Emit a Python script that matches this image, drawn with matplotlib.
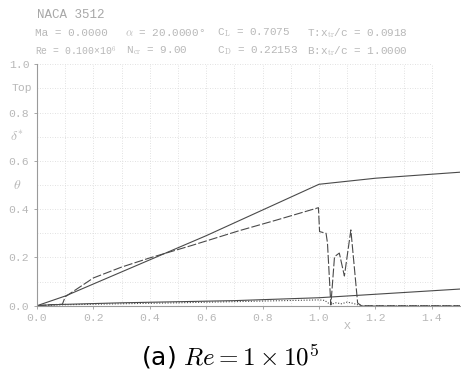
import matplotlib
matplotlib.use("Agg")
import matplotlib.pyplot as plt
import numpy as np

plt.rcParams["mathtext.fontset"] = "cm"

# Boundary-layer thickness distributions (top surface + wake)
x_upper = [0.0, 0.1, 0.3, 0.6, 1.0, 1.2, 1.5]
y_upper = [0.0, 0.04, 0.14, 0.29, 0.503, 0.528, 0.553]

x_dash = [0.0, 0.05, 0.09, 0.1, 0.2, 0.3, 0.4, 0.55, 0.715, 0.85, 0.998,
          1.002, 1.025, 1.03, 1.042, 1.055, 1.072, 1.09, 1.113, 1.137, 1.15, 1.5]
y_dash = [0.0, 0.004, 0.006, 0.037, 0.115, 0.16, 0.198, 0.25, 0.31, 0.355, 0.406,
          0.307, 0.30, 0.26, 0.003, 0.203, 0.218, 0.123, 0.314, 0.011, 0.0, 0.0]

x_lower = [0.0, 0.05, 0.3, 0.7, 1.0, 1.5]
y_lower = [0.0, 0.004, 0.012, 0.021, 0.033, 0.069]

x_dot = [0.0, 0.1, 0.5, 1.0, 1.02, 1.04, 1.06, 1.08, 1.1, 1.12, 1.14, 1.16, 1.5]
y_dot = [0.0, 0.004, 0.012, 0.024, 0.022, 0.005, 0.012, 0.008, 0.015, 0.01, 0.003, 0.0, 0.0]

x_ticks = [0.0, 0.2, 0.4, 0.6, 0.8, 1.0, 1.2, 1.4]
y_ticks = [0.0, 0.2, 0.4, 0.6, 0.8, 1.0]
x_grid = np.round(np.arange(0.1, 1.41, 0.1), 2)
y_grid = np.round(np.arange(0.1, 1.01, 0.1), 2)

W, H = 461, 378
fig = plt.figure(figsize=(W / 100, H / 100), dpi=100)
ax = fig.add_axes([37 / W, (H - 305.7) / H, (460 - 37) / W, 241.4 / H])
ax.set_xlim(0, 1.5)
ax.set_ylim(0, 1.0)

gray = "#b8b8b8"
gridc = "#d8d8d8"
ax.vlines(x_grid, 0, 1.0, colors=gridc, linestyles=(0, (1, 2)), linewidth=0.6)
ax.hlines(y_grid, 0, 1.4, colors=gridc, linestyles=(0, (1, 2)), linewidth=0.6)

lc = "#4a4a4a"
ax.plot(x_upper, y_upper, color=lc, lw=0.8)
ax.plot(x_dash, y_dash, color=lc, lw=0.8, linestyle=(0, (8, 2)))
ax.plot(x_lower, y_lower, color=lc, lw=0.8)
ax.plot(x_dot, y_dot, color=lc, lw=0.8, linestyle=(0, (1, 1.5)))

for s in ["top", "right"]:
    ax.spines[s].set_visible(False)
for s in ["left", "bottom"]:
    ax.spines[s].set_color("#9a9a9a")
    ax.spines[s].set_linewidth(0.8)

mono = "Liberation Mono"
tfont = dict(family=mono, color=gray, fontsize=8.2)
ax.set_xticks(x_ticks)
ax.set_xticklabels([f"{v:.1f}" for v in x_ticks], **tfont)
ax.set_yticks(y_ticks)
ax.set_yticklabels([f"{v:.1f}" for v in y_ticks], **tfont)
ax.tick_params(axis="both", length=2.5, width=0.6, color="#9a9a9a", pad=3)

# side labels
ax.text(-0.018, 0.9, "Top", ha="right", va="center", **tfont)
ax.text(-0.048, 0.7, r"$\delta^{*}$", ha="right", va="center", color=gray, fontsize=10)
ax.text(-0.055, 0.5, r"$\theta$", ha="right", va="center", color=gray, fontsize=10)
ax.text(1.1, -0.085, "X", ha="center", va="center", **tfont)

# header
hf = dict(family=mono, color=gray, fontsize=7.9)
fig.text(37 / W, 1 - 15 / H, "NACA 3512", family=mono, color="#a8a8a8",
         fontsize=9, va="center")
fig.text(35 / W, 1 - 33 / H, "Ma = 0.0000", va="center", **hf)
fig.text(125 / W, 1 - 33 / H, r"$\alpha$ = 20.0000°", va="center", **hf)
fig.text(217 / W, 1 - 33 / H, r"C$_\mathrm{L}$ = 0.7075", va="center", **hf)
fig.text(307 / W, 1 - 33 / H, r"T:x$_\mathrm{tr}$/c = 0.0918", va="center", **hf)
fig.text(35 / W, 1 - 51 / H, "Re = 0.100×10$^6$", va="center", family=mono,
         color=gray, fontsize=7.0)
fig.text(126 / W, 1 - 51 / H, r"N$_\mathrm{cr}$ = 9.00", va="center", **hf)
fig.text(217 / W, 1 - 51 / H, r"C$_\mathrm{D}$ = 0.22153", va="center", **hf)
fig.text(307 / W, 1 - 51 / H, r"B:x$_\mathrm{tr}$/c = 1.0000", va="center", **hf)

# caption
fig.text(0.5, 1 - 357 / H, r"(a) $Re = 1 \times 10^5$", ha="center", va="center",
         fontsize=18, color="black")

fig.savefig("out.png", dpi=100)
